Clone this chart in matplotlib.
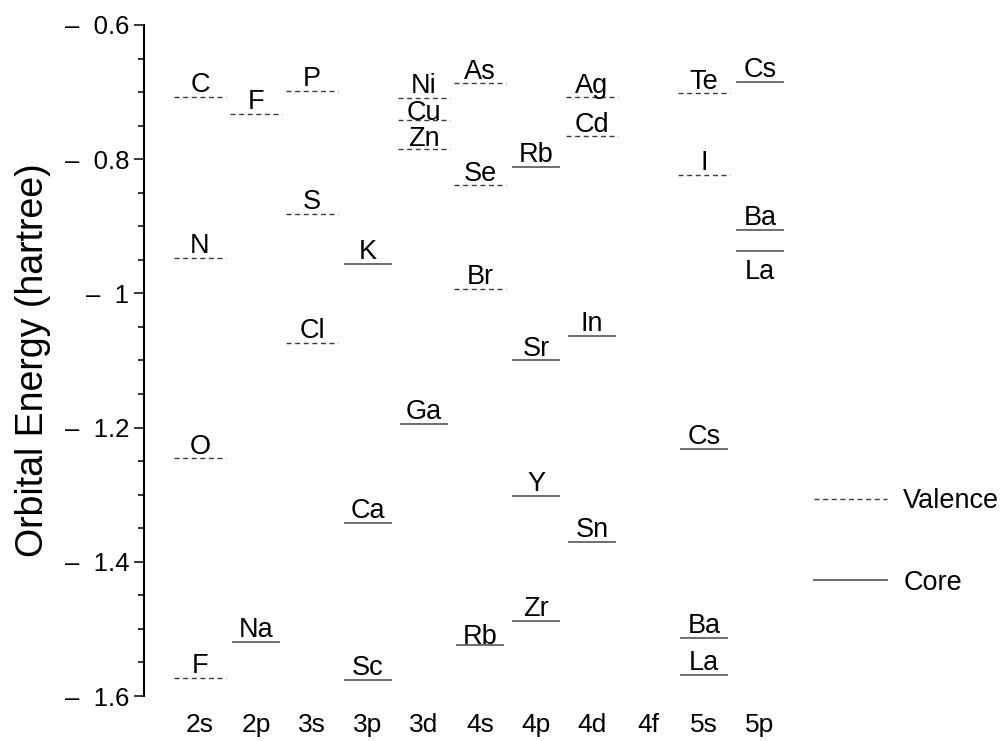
import matplotlib
matplotlib.use("Agg")
import matplotlib.pyplot as plt
from matplotlib.lines import Line2D
from matplotlib.ticker import MultipleLocator

plt.rcParams['font.family'] = ['Liberation Sans', 'DejaVu Sans']

# orbital columns
orbitals = ['2s', '2p', '3s', '3p', '3d', '4s', '4p', '4d', '4f', '5s', '5p']

# valence levels (dashed)
val_orb = ['2s', '2s', '2s', '2s', '2p', '3s', '3s', '3s', '3d', '3d', '3d',
           '4s', '4s', '4s', '4d', '4d', '5s', '5s']
val_elem = ['C', 'N', 'O', 'F', 'F', 'P', 'S', 'Cl', 'Ni', 'Cu', 'Zn',
            'As', 'Se', 'Br', 'Ag', 'Cd', 'Te', 'I']
val_energy = [-0.707, -0.947, -1.246, -1.573, -0.732, -0.698, -0.881, -1.074,
              -0.709, -0.742, -0.785, -0.687, -0.839, -0.993, -0.708, -0.766,
              -0.702, -0.824]

# core levels (solid)
core_orb = ['2p', '3p', '3p', '3p', '3d', '4s', '4p', '4p', '4p', '4p',
            '4d', '4d', '5s', '5s', '5s', '5p', '5p', '5p']
core_elem = ['Na', 'K', 'Ca', 'Sc', 'Ga', 'Rb', 'Rb', 'Sr', 'Y', 'Zr',
             'In', 'Sn', 'Cs', 'Ba', 'La', 'Cs', 'Ba', 'La']
core_energy = [-1.520, -0.956, -1.342, -1.576, -1.195, -1.524, -0.812, -1.100,
               -1.302, -1.488, -1.064, -1.370, -1.232, -1.514, -1.568, -0.685,
               -0.906, -0.937]

ytick_values = [-0.6, -0.8, -1.0, -1.2, -1.4, -1.6]
ytick_labels = ['\u2013  0.6', '\u2013  0.8', '\u2013  1', '\u2013  1.2',
                '\u2013  1.4', '\u2013  1.6']

xpos = {o: i + 1 for i, o in enumerate(orbitals)}

fig = plt.figure(figsize=(10.03, 7.41), dpi=100)
ax = fig.add_axes([144 / 1003, 1 - 696 / 741, 672 / 1003, 671 / 741])

val_style = dict(color='#3c3c3c', lw=1.0, ls=(0, (3.6, 2.6)))
core_style = dict(color='#6e6e6e', lw=1.4, ls='-')

# small nudges where the original labels sit tight on crowded levels
nudge = {('3d', 'Cu'): -3, ('3d', 'Zn'): -1.5, ('4s', 'Rb'): -3}

for orb, el, e in zip(val_orb, val_elem, val_energy):
    x = xpos[orb]
    ax.plot([x - 0.46, x + 0.46], [e, e], **val_style)
    ax.annotate(el, (x, e), xytext=(0, 3.5 + nudge.get((orb, el), 0)),
                textcoords='offset points', ha='center', va='baseline',
                fontsize=19.5)

for orb, el, e in zip(core_orb, core_elem, core_energy):
    x = xpos[orb]
    ax.plot([x - 0.41, x + 0.41], [e, e], **core_style)
    if orb == '5p' and el == 'La':
        dy = -20
    else:
        dy = 3.5 + nudge.get((orb, el), 0)
    ax.annotate(el, (x, e), xytext=(0, dy), textcoords='offset points',
                ha='center', va='baseline', fontsize=19.5)

ax.set_xlim(0, 12)
ax.set_ylim(-1.6, -0.6)
ax.set_xticks(range(1, len(orbitals) + 1), orbitals)
ax.tick_params(axis='x', length=0, pad=12, labelsize=19)
ax.set_yticks(ytick_values, ytick_labels)
ax.yaxis.set_minor_locator(MultipleLocator(0.05))
ax.tick_params(axis='y', which='major', length=7.5, width=1.1, pad=3,
               labelsize=18.5)
ax.tick_params(axis='y', which='minor', length=4, width=1.1)

for s in ['top', 'right', 'bottom']:
    ax.spines[s].set_visible(False)
ax.spines['left'].set_linewidth(1.5)

ax.set_ylabel('Orbital Energy (hartree)', fontsize=27)
ax.yaxis.set_label_coords(-0.138, 0.5)

handles = [Line2D([], [], **val_style), Line2D([], [], **core_style)]
fig.legend(handles, ['Valence', 'Core'], loc='center left',
           bbox_to_anchor=(814 / 1003, 1 - 542 / 741), frameon=False,
           fontsize=19.5, handlelength=2.7, handletextpad=0.6,
           labelspacing=2.05, borderpad=0, borderaxespad=0)

fig.savefig('out.png', dpi=100)
